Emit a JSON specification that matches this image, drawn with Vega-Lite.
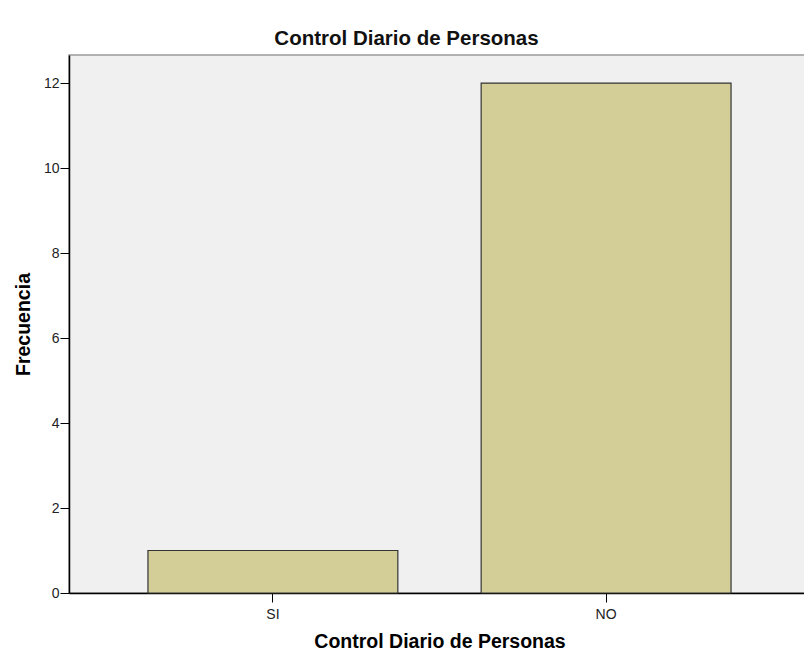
{
  "$schema": "https://vega.github.io/schema/vega-lite/v6.json",
  "width": 741,
  "height": 538,
  "autosize": {"type": "none"},
  "padding": {"left": 69, "top": 55, "right": 0, "bottom": 57},
  "background": "white",
  "title": {"text": "Control Diario de Personas", "font": "Liberation Sans", "fontSize": 20.5, "fontWeight": "bold", "color": "#111111", "anchor": "middle", "dx": -33, "offset": 6},
  "config": {"view": {"fill": "#f0f0f0", "stroke": "#9a9a9a", "strokeWidth": 1.5}},
  "data": {"values": [{"categoria": "SI", "frecuencia": 1}, {"categoria": "NO", "frecuencia": 12}]},
  "mark": {"type": "bar", "fill": "#d3ce98", "stroke": "#333333", "strokeWidth": 1.2},
  "encoding": {
    "x": {
      "field": "categoria", "type": "nominal", "sort": ["SI", "NO"],
      "scale": {"paddingInner": 0.25, "paddingOuter": 0.237},
      "axis": {"title": "Control Diario de Personas", "titleFont": "Liberation Sans", "titleFontSize": 19.5, "titleFontWeight": "bold", "titleColor": "#000000", "titlePadding": 11, "labelFont": "Liberation Sans", "labelFontSize": 14, "labelColor": "#222222", "labelAngle": 0, "labelPadding": 5, "tickSize": 9, "tickColor": "#000000", "domainColor": "#000000", "domainWidth": 1.5, "grid": false}
    },
    "y": {
      "field": "frecuencia", "type": "quantitative",
      "scale": {"domain": [0, 12.66], "nice": false, "zero": true},
      "axis": {"title": "Frecuencia", "values": [0, 2, 4, 6, 8, 10, 12], "titleFont": "Liberation Sans", "titleFontSize": 19.5, "titleFontWeight": "bold", "titleColor": "#000000", "titlePadding": 10, "labelFont": "Liberation Sans", "labelFontSize": 14, "labelColor": "#222222", "labelPadding": 1, "tickSize": 9, "tickColor": "#000000", "domainColor": "#000000", "domainWidth": 1.5, "grid": false}
    }
  }
}
